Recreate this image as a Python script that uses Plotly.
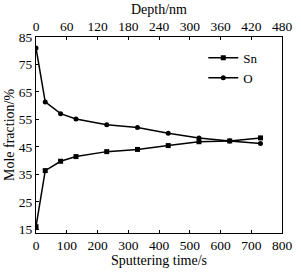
import plotly.graph_objects as go

time_s = [0, 30, 80, 130, 230, 330, 430, 530, 630, 730]
sn = [16.0, 36.4, 39.8, 41.5, 43.3, 44.1, 45.5, 46.9, 47.2, 48.3]
o = [81.0, 61.4, 57.1, 55.2, 53.1, 52.1, 50.0, 48.3, 47.2, 46.3]
depth_range = [0, 480]
time_ticks = [0, 100, 200, 300, 400, 500, 600, 700, 800]
depth_ticks = [0, 60, 120, 180, 240, 300, 360, 420, 480]
y_ticks = [15, 25, 35, 45, 55, 65, 75, 85]

FONT = "Liberation Serif"

fig = go.Figure()
fig.add_trace(go.Scatter(x=time_s, y=sn, name="Sn", mode="lines+markers",
                         line=dict(color="black", width=1.5),
                         marker=dict(symbol="square", size=5, color="black")))
fig.add_trace(go.Scatter(x=time_s, y=o, name="O", mode="lines+markers",
                         line=dict(color="black", width=1.5),
                         marker=dict(symbol="circle", size=5, color="black")))
fig.add_trace(go.Scatter(x=depth_range, y=[50, 50], xaxis="x2", mode="lines",
                         line=dict(width=0), showlegend=False, hoverinfo="skip"))

axis_common = dict(showline=True, linecolor="black", linewidth=1, ticks="inside",
                   ticklen=3, tickcolor="black", showgrid=False, zeroline=False,
                   ticklabeloverflow="allow",
                   tickfont=dict(family=FONT, size=13.5, color="black"))

fig.update_layout(
    width=301, height=272,
    margin=dict(l=31, r=9, t=27, b=32),
    paper_bgcolor="white", plot_bgcolor="white",
    font=dict(family=FONT, size=13, color="black"),
    xaxis=dict(range=[0, 800], tickvals=time_ticks, mirror=False,
               title=dict(text="Sputtering time/s", standoff=0,
                          font=dict(family=FONT, size=14)), **axis_common),
    xaxis2=dict(range=depth_range, tickvals=depth_ticks, overlaying="x", side="top",
                anchor="y",
                title=dict(text="Depth/nm", standoff=0, font=dict(family=FONT, size=14)),
                **axis_common),
    yaxis=dict(range=[13.7, 85], tickvals=y_ticks, mirror=True,
               title=dict(text="Mole fraction/%", standoff=0,
                          font=dict(family=FONT, size=14)), **axis_common),
    legend=dict(x=0.68, y=0.97, xanchor="left", yanchor="top",
                bgcolor="rgba(0,0,0,0)", font=dict(family=FONT, size=13),
                itemwidth=30, tracegroupgap=0),
    showlegend=True,
)

fig.write_html("out.html")
